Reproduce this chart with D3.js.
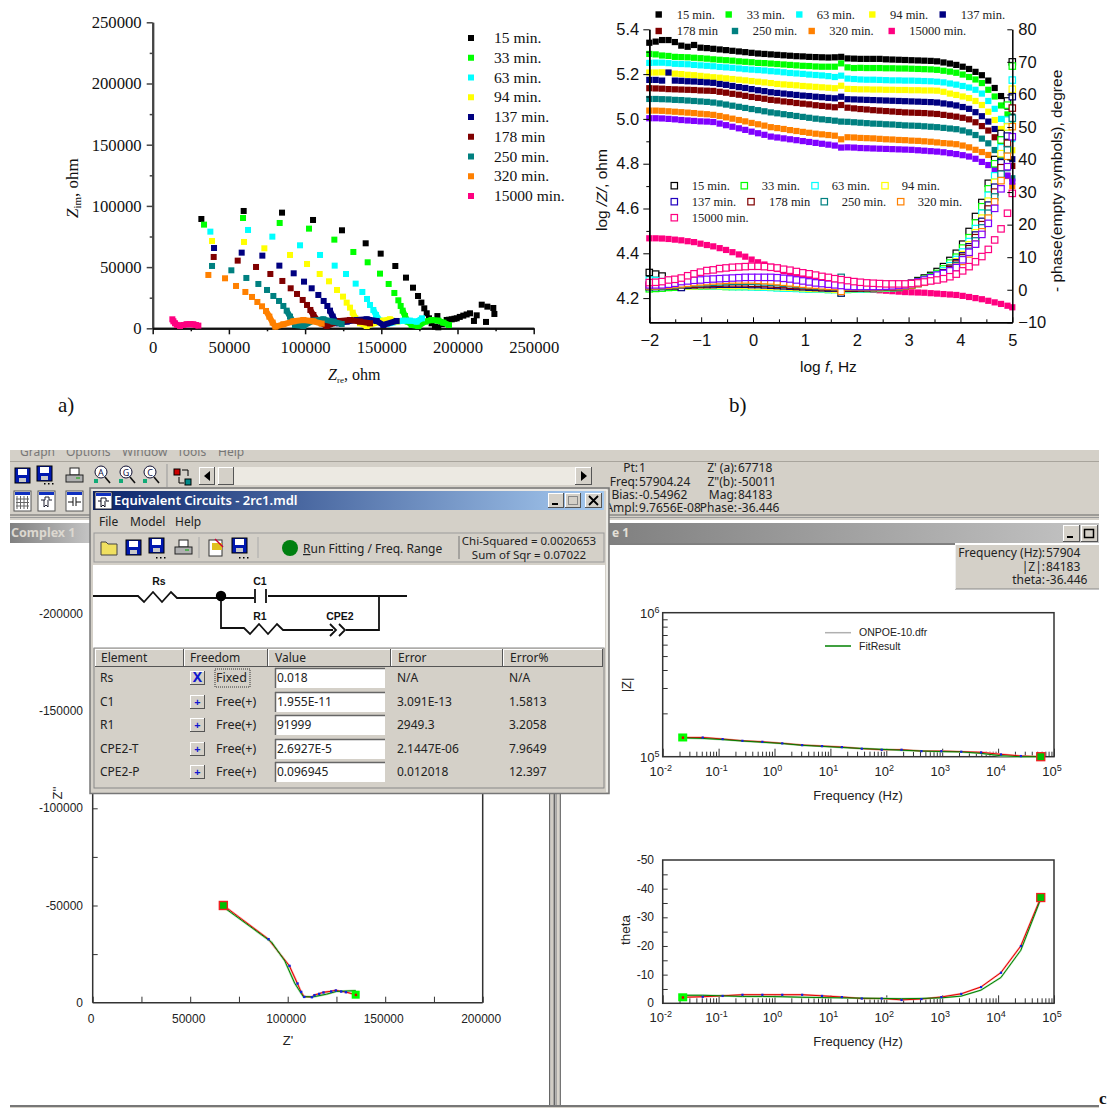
<!DOCTYPE html>
<html><head><meta charset="utf-8">
<script src="https://cdn.jsdelivr.net/npm/d3@7"></script>
<style>html,body{margin:0;padding:0;background:#fff}svg{display:block}</style></head>
<body><svg id="c" width="1113" height="1108"></svg>
<script>
// ---------- DATA ----------
const seriesNames=["15 min.","33 min.","63 min.","94 min.","137 min.","178 min","250 min.","320 min.","15000 min."];
const seriesColors=["#000000","#00ff00","#00ffff","#ffff00","#000080","#800000","#008080","#ff8000","#ff0080"];
const extraColor="#8000ff";
// a) Nyquist
const nyq15=[[31930,89300],[59700,95850],[84860,94490],[105200,88500],[124200,80060],[139750,69440],[149600,61000],[159200,50900],[166200,41400],[170800,33200],[174100,26400],[176300,21000],[178200,16300],[179800,12250],[181300,8170],[183000,4080],[185200,1360],[187400,800],[190000,3500],[186800,10000],[192900,6800],[194500,7000],[196200,7350],[198000,7800],[199500,8170],[201500,9300],[203800,10350],[206000,11300],[208200,12250],[212600,10600],[210800,6000],[215900,19300],[219600,17700],[223500,16600],[224200,11700],[218700,5200]];
const nyq33=[[33680,84700],[59270,90130],[83320,86050],[102570,81420],[119190,72430],[131660,62360],[141060,53920],[149150,44660],[154840,36220],[158560,28860],[161180,22870],[162710,18240],[164025,14430],[165560,10075],[167310,5450],[169930,2720],[174300,1900],[178680,5450],[183050,6800],[187420,6260],[190700,4630],[194420,2720]];
const nyq63=[[37830,78970],[62550,80330],[78510,74880],[96670,67800],[109790,59910],[119410,51190],[126850,44380],[133190,36490],[137560,29680],[140620,23960],[142590,19060],[144780,14980],[146530,10890],[149150,6260],[153530,3540],[164460,6260],[168840,6260],[173210,5450],[176710,8170]];
const nyq94=[[38930,71340],[59920,70530],[73260,65350],[90100,59910],[101260,52550],[109570,44380],[115690,38390],[120940,31310],[124880,25870],[127280,20970],[129470,16880],[131220,12800],[132970,8170],[136030,4080],[140400,1900],[151340,6260],[155710,7350],[160090,5450]];
const nyq137=[[40240,65620],[58390,61810],[71950,59360],[83110,51190],[92510,44930],[99290,38120],[104320,32680],[108690,27230],[112190,22330],[114600,18240],[116350,14430],[118100,9530],[120720,4080],[127280,5450],[133840,6800],[140400,7350],[146970,5990],[151340,2720],[160090,5990]];
const nyq178=[[40020,58270],[55770,55280],[67800,50100],[77200,44380],[85070,38670],[90540,32680],[94700,28050],[98420,23150],[101260,19060],[103450,14980],[105410,10890],[108690,5450],[114160,1900],[122910,5990],[129470,6800],[136030,5450],[142590,4080]];
const nyq250=[[38930,50920],[51610,47380],[61450,41120],[69330,36220],[75010,31310],[79170,26410],[82890,22330],[85730,18240],[87920,14430],[90100,9530],[93380,2720],[98850,1900],[105410,6260],[111970,7350],[118540,5450],[124010,3540]];
const nyq320=[[36520,43570],[47460,40850],[54680,34580],[60800,29680],[65170,25600],[68670,21510],[71730,17970],[74360,14160],[76550,9530],[78730,4630],[80480,1360],[85730,3270],[92290,5720],[98850,6800],[105410,5720],[110880,3810]];
const nyq15000=[[12900,7350],[13600,5700],[14650,4080],[15800,2800],[17930,1900],[20000,2700],[22310,3270],[24500,3400],[26680,3270],[28300,2700],[29960,2180]];
const nyqSeries=[nyq15,nyq33,nyq63,nyq94,nyq137,nyq178,nyq250,nyq320,nyq15000];
const nyqYTicks=[0,50000,100000,150000,200000,250000];
const nyqXTicks=[0,50000,100000,150000,200000,250000];
// b) Bode
const logF=[-2,-1.877,-1.753,-1.63,-1.507,-1.383,-1.26,-1.137,-1.013,-0.89,-0.767,-0.643,-0.52,-0.397,-0.273,-0.15,-0.027,0.097,0.22,0.343,0.467,0.59,0.713,0.837,0.96,1.083,1.207,1.33,1.453,1.577,1.7,1.823,1.947,2.07,2.193,2.317,2.44,2.563,2.687,2.81,2.933,3.057,3.18,3.303,3.427,3.55,3.673,3.797,3.92,4.043,4.167,4.29,4.413,4.537,4.66,4.783,4.907,5];
const lz15=[5.340,5.345,5.352,5.352,5.343,5.327,5.322,5.330,5.318,5.316,5.313,5.310,5.307,5.304,5.301,5.298,5.295,5.292,5.290,5.288,5.286,5.284,5.282,5.280,5.279,5.277,5.276,5.275,5.274,5.275,5.277,5.270,5.269,5.268,5.268,5.268,5.268,5.266,5.265,5.264,5.263,5.262,5.261,5.260,5.259,5.257,5.252,5.247,5.241,5.233,5.223,5.210,5.195,5.171,5.138,5.102,5.055,5.010];
const lz33=[5.290,5.288,5.283,5.281,5.277,5.276,5.275,5.273,5.271,5.269,5.266,5.264,5.262,5.260,5.257,5.255,5.253,5.250,5.249,5.247,5.245,5.243,5.241,5.239,5.237,5.236,5.234,5.233,5.233,5.233,5.248,5.230,5.227,5.228,5.227,5.227,5.227,5.226,5.226,5.225,5.225,5.224,5.223,5.222,5.221,5.219,5.215,5.211,5.206,5.198,5.187,5.176,5.160,5.130,5.100,5.060,5.020,4.970];
const lz63=[5.250,5.251,5.251,5.249,5.246,5.245,5.244,5.241,5.239,5.237,5.235,5.232,5.230,5.228,5.225,5.222,5.220,5.218,5.216,5.213,5.211,5.208,5.205,5.203,5.201,5.198,5.196,5.194,5.191,5.187,5.193,5.180,5.178,5.176,5.175,5.175,5.174,5.173,5.172,5.172,5.171,5.171,5.170,5.169,5.168,5.166,5.163,5.158,5.153,5.147,5.140,5.130,5.113,5.080,5.045,5.000,4.960,4.910];
const lz94=[5.207,5.207,5.208,5.206,5.202,5.200,5.197,5.195,5.192,5.189,5.186,5.184,5.181,5.178,5.175,5.172,5.169,5.166,5.163,5.160,5.156,5.154,5.152,5.150,5.147,5.145,5.143,5.141,5.139,5.137,5.148,5.134,5.133,5.132,5.132,5.131,5.131,5.130,5.130,5.129,5.129,5.128,5.128,5.127,5.127,5.126,5.121,5.113,5.107,5.100,5.093,5.080,5.062,5.032,4.995,4.955,4.905,4.860];
const lz137=[5.174,5.174,5.171,5.207,5.171,5.170,5.168,5.167,5.165,5.163,5.161,5.156,5.152,5.147,5.142,5.138,5.133,5.128,5.124,5.119,5.116,5.113,5.110,5.107,5.104,5.102,5.099,5.097,5.094,5.092,5.099,5.088,5.087,5.086,5.085,5.084,5.083,5.082,5.081,5.080,5.079,5.078,5.077,5.076,5.075,5.073,5.069,5.065,5.060,5.053,5.045,5.030,5.012,4.988,4.955,4.915,4.870,4.820];
const lz178=[5.137,5.136,5.135,5.133,5.132,5.131,5.130,5.129,5.127,5.126,5.125,5.121,5.117,5.112,5.108,5.103,5.098,5.094,5.090,5.085,5.082,5.078,5.075,5.071,5.068,5.065,5.061,5.058,5.055,5.052,5.062,5.050,5.047,5.044,5.042,5.039,5.037,5.035,5.033,5.031,5.029,5.028,5.027,5.026,5.024,5.022,5.018,5.014,5.010,5.005,4.998,4.985,4.968,4.948,4.918,4.880,4.835,4.790];
const lz250=[5.089,5.089,5.088,5.087,5.085,5.084,5.082,5.080,5.078,5.076,5.073,5.069,5.064,5.059,5.054,5.049,5.044,5.039,5.034,5.029,5.025,5.021,5.017,5.013,5.009,5.005,5.001,4.998,4.995,4.992,4.988,4.987,4.985,4.983,4.981,4.979,4.978,4.976,4.975,4.973,4.971,4.970,4.969,4.967,4.965,4.963,4.960,4.957,4.954,4.948,4.940,4.928,4.912,4.891,4.861,4.825,4.780,4.735];
const lz320=[5.037,5.037,5.036,5.034,5.032,5.030,5.028,5.026,5.023,5.021,5.018,5.013,5.007,5.001,4.995,4.989,4.982,4.976,4.970,4.963,4.959,4.955,4.950,4.946,4.942,4.938,4.934,4.931,4.928,4.925,4.909,4.918,4.917,4.915,4.914,4.913,4.911,4.909,4.908,4.906,4.905,4.903,4.902,4.900,4.898,4.895,4.892,4.890,4.887,4.881,4.873,4.862,4.852,4.839,4.815,4.780,4.745,4.700];
const lzExtra=[5.003,5.003,5.002,5.000,4.998,4.995,4.993,4.991,4.989,4.988,4.986,4.979,4.972,4.965,4.958,4.951,4.943,4.936,4.929,4.921,4.917,4.913,4.909,4.905,4.901,4.897,4.893,4.889,4.885,4.881,4.872,4.873,4.872,4.870,4.869,4.868,4.867,4.866,4.865,4.864,4.863,4.862,4.860,4.858,4.856,4.854,4.851,4.847,4.843,4.838,4.832,4.822,4.808,4.794,4.775,4.757,4.747,4.720];
const lz15000=[4.467,4.467,4.466,4.464,4.461,4.458,4.454,4.450,4.443,4.437,4.431,4.423,4.415,4.405,4.395,4.385,4.372,4.360,4.350,4.340,4.330,4.320,4.310,4.301,4.293,4.285,4.278,4.271,4.265,4.259,4.256,4.252,4.248,4.244,4.240,4.237,4.235,4.233,4.231,4.229,4.227,4.226,4.225,4.224,4.222,4.220,4.218,4.216,4.214,4.210,4.205,4.200,4.195,4.188,4.181,4.174,4.166,4.159];
const ph15=[5.3,4.8,4.2,2.5,1.5,1.2,1.1,1.1,1.1,1.2,1.2,1.2,1.3,1.3,1.3,1.3,1.3,1.3,1.2,1.2,1.1,1.0,0.9,0.9,0.8,0.7,0.6,0.5,0.5,0.4,0.2,0.5,0.6,0.6,0.7,0.7,0.8,0.8,0.9,1.1,1.4,2.0,2.8,3.6,4.4,5.6,7.1,9,11.2,14,17.9,22.5,26.8,32.7,40,48,58,70];
const ph33=[0.3,0.4,0.5,0.7,0.8,1.0,1.1,1.1,1.1,1.1,1.1,1.1,1.0,1.0,1.0,1.0,1.0,0.9,0.9,0.8,0.7,0.6,0.5,0.5,0.4,0.3,0.3,0.2,0.1,0.1,-1.0,0.1,0.2,0.3,0.3,0.4,0.4,0.5,0.6,0.7,1.2,1.8,2.5,3.2,4,5,6.4,8.2,10,12.8,16,20.5,25.5,31,38.7,46,56.7,68.7];
const ph63=[3.0,2.8,2.5,2.0,1.5,1.3,1.2,1.2,1.2,1.2,1.1,1.1,1.1,1.0,1.0,1.0,0.9,0.9,0.8,0.7,0.6,0.5,0.5,0.4,0.3,0.3,0.2,0.2,0.1,0.1,0.5,0.2,0.3,0.3,0.4,0.4,0.5,0.6,0.7,0.8,1.1,1.6,2.2,2.9,3.7,4.6,5.8,7.4,9.3,11.6,14.8,18.8,23.5,29,35,43.6,52.1,64.4];
const ph94=[1.5,1.4,1.4,1.3,1.2,1.2,1.2,1.2,1.3,1.3,1.3,1.3,1.3,1.3,1.3,1.3,1.2,1.2,1.1,1.0,1.0,0.9,0.8,0.7,0.6,0.5,0.4,0.4,0.3,0.2,0.8,0.4,0.4,0.5,0.5,0.6,0.6,0.7,0.8,0.9,1.1,1.5,2.0,2.7,3.4,4.2,5.3,6.8,8.6,10.8,13.8,17.5,22,27.2,33,41.8,50,61.6];
const ph137=[1.0,1.0,1.0,1.1,1.2,0.7,1.4,1.5,1.6,1.6,1.6,1.7,1.7,1.7,1.7,1.7,1.6,1.6,1.5,1.4,1.3,1.2,1.1,1.0,0.9,0.8,0.7,0.6,0.5,0.5,-1.0,0.5,0.5,0.6,0.6,0.7,0.7,0.8,0.9,1.0,1.2,1.6,2.1,2.7,3.4,4.2,5.2,6.6,8.3,10.4,13.2,16.8,21,26,31.5,39,47.2,59.3];
const ph178=[1.0,1.1,1.1,1.2,1.3,1.5,1.6,1.7,1.8,1.9,2.0,2.0,2.1,2.1,2.1,2.1,2.0,2.0,1.9,1.8,1.7,1.6,1.4,1.3,1.2,1.1,1.0,0.9,0.8,0.7,0.5,0.6,0.6,0.6,0.7,0.7,0.8,0.8,0.9,1.0,1.2,1.5,2.0,2.6,3.2,4.0,5.0,6.2,7.9,9.9,12.6,16,20,24.8,30,37.5,45,55.8];
const ph250=[1.0,1.0,1.1,1.2,1.4,1.6,1.8,2.0,2.1,2.2,2.3,2.4,2.5,2.6,2.6,2.6,2.6,2.5,2.4,2.3,2.2,2.0,1.9,1.7,1.5,1.3,1.2,1.1,1.0,0.9,3.8,0.8,0.8,0.8,0.8,0.8,0.9,0.9,1.0,1.0,1.2,1.5,1.9,2.4,3.0,3.7,4.6,5.8,7.4,9.3,11.8,15,19,23.5,28.5,35.5,42.9,52.7];
const ph320=[1.2,1.2,1.3,1.4,1.6,1.8,2.0,2.2,2.4,2.5,2.7,2.8,2.9,3.0,3.0,3.0,3.0,2.9,2.8,2.7,2.5,2.3,2.1,1.9,1.7,1.5,1.4,1.2,1.1,1.0,-0.5,0.9,0.9,0.9,0.9,0.9,0.9,1.0,1.0,1.1,1.2,1.5,1.9,2.3,2.9,3.5,4.3,5.4,6.9,8.7,11,14,17.8,22,27,33.5,41,50.1];
const phExtra=[1.5,1.5,1.5,1.7,2.0,2.5,2.7,2.9,3.0,3.2,3.3,3.4,3.5,3.6,3.7,3.8,3.8,3.8,3.8,3.8,3.7,3.5,3.3,3.0,2.7,2.4,2.1,1.9,1.7,1.5,1.3,1.1,1.0,1.0,1.0,1.0,1.0,1.1,1.2,1.3,1.5,1.9,2.4,3.0,3.7,4.5,5.0,5.8,6.8,9.2,11.5,14,17,20.4,25,31,37.8,47];
const ph15000=[2.2,2.3,2.5,3.0,3.2,3.6,4.3,4.9,5.4,5.9,6.1,6.5,6.7,6.9,7.0,7.1,7.2,7.2,7.1,6.9,6.7,6.3,6.0,5.6,5.2,4.9,4.5,4.1,3.8,3.4,3.1,2.8,2.5,2.3,2.1,2.0,1.9,1.8,1.8,1.8,1.8,1.9,2.1,2.4,2.7,3.0,3.4,4,4.8,5.8,7.1,8.6,10.2,12.4,15.3,18.7,23.5,29.6];
const bodeZ=[lz15,lz33,lz63,lz94,lz137,lz178,lz250,lz320,lzExtra,lz15000];
const bodeP=[ph15,ph33,ph63,ph94,ph137,ph178,ph250,ph320,phExtra,ph15000];
const bodeColors=["#000000","#00ff00","#00ffff","#ffff00","#000080","#800000","#008080","#ff8000",extraColor,"#ff0080"];
const bodeXTicks=[-2,-1,0,1,2,3,4,5];
const bodeZTicks=[4.2,4.4,4.6,4.8,5.0,5.2,5.4];
const bodeZMinor=[4.3,4.5,4.7,4.9,5.1,5.3];
const bodePTicks=[-10,0,10,20,30,40,50,60,70,80];
// c) fit screenshot
const fitZre=[67000,90070,100830,104930,106800,108400,112300,113650,116050,118260,122200,124600,127340,129740,134870];
const fitZim=[50011,32770,19030,9970,5660,3090,2930,3960,4630,5350,5860,6380,5860,5500,4120];
const modelZre=[67300,91700,98500,103600,108000,113000,120000,125000,134900];
const modelZim=[49000,31200,21500,10000,3100,3000,4400,5800,6200];
const freqLog=[-1.642,-1.286,-0.93,-0.575,-0.219,0.137,0.493,0.848,1.204,1.56,1.916,2.271,2.627,2.983,3.339,3.694,4.05,4.406,4.763];
const magData=[136000,136000,132700,129100,127000,123900,120500,118600,116700,113800,111900,111900,109400,109400,108400,107200,103800,101200,100000];
const magFit=[135000,134000,131500,128500,126000,123500,120000,118000,116000,114000,112500,111000,109500,108500,108000,105500,101500,100000,100000];
const thetaData=[2.1,2.3,2.6,3,3,3,3,2.6,2.2,1.7,1.7,1.2,1.5,2.2,3.3,5.7,10.7,20,36.9];
const thetaFit=[2.8,2.8,2.6,2.4,2.4,2.3,2.1,2.0,1.9,1.8,1.7,1.6,1.7,1.9,2.5,4.6,9,18.5,36.4];
const circuitRows=[["Rs","Fixed","0.018","N/A","N/A"],["C1","Free(+)","1.955E-11","3.091E-13","1.5813"],["R1","Free(+)","91999","2949.3","3.2058"],["CPE2-T","Free(+)","2.6927E-5","2.1447E-06","7.9649"],["CPE2-P","Free(+)","0.096945","0.012018","12.397"]];
const circuitHeads=["Element","Freedom","Value","Error","Error%"];

// ---------- HELPERS ----------
const svg=d3.select("#c");
const SERIF='"Liberation Serif","Times New Roman",serif', ARIAL='"Liberation Sans",Arial,sans-serif', UI='"Noto Sans","Open Sans",sans-serif';
const defs=svg.append("defs");
function grad(id,a,b){const g=defs.append("linearGradient").attr("id",id);g.append("stop").attr("offset","0").attr("stop-color",a);g.append("stop").attr("offset","1").attr("stop-color",b);}
grad("tb","#0a246a","#a6caf0");grad("gb","#808080","#c4c4c4");
function txt(p,x,y,s,o={}){return p.append("text").attr("x",x).attr("y",y).text(s)
 .attr("font-family",o.f||UI).attr("font-size",o.s||12).attr("fill",o.c||"#222")
 .attr("text-anchor",o.a||"start").attr("font-weight",o.w||null).attr("font-style",o.i?"italic":null)
 .attr("transform",o.r?`rotate(${o.r} ${x} ${y})`:null);}
function rct(p,x,y,w,h,f,st,sw){return p.append("rect").attr("x",x).attr("y",y).attr("width",w).attr("height",h).attr("fill",f||"none").attr("stroke",st||"none").attr("stroke-width",sw||1);}
function ln(p,x1,y1,x2,y2,c,w){return p.append("line").attr("x1",x1).attr("y1",y1).attr("x2",x2).attr("y2",y2).attr("stroke",c||"#000").attr("stroke-width",w||1);}
function bevel(p,x,y,w,h,inset){rct(p,x,y,w,h,"#d4d0c8");const a=inset?"#808080":"#fff",b=inset?"#fff":"#555";ln(p,x,y+.5,x+w,y+.5,a);ln(p,x+.5,y,x+.5,y+h,a);ln(p,x,y+h-.5,x+w,y+h-.5,b);ln(p,x+w-.5,y,x+w-.5,y+h,b);}
function styleAxis(g,c,w){g.selectAll(".domain").attr("stroke",c).attr("stroke-width",w);g.selectAll(".tick line").attr("stroke",c).attr("stroke-width",Math.max(1,w-.5));g.selectAll("text").attr("fill","#111");return g;}
function squares(p,pts,xs,ys,size,col,open){const h=size/2;
 p.append("g").selectAll("rect").data(pts).join("rect")
  .attr("x",d=>xs(d[0])-h).attr("y",d=>ys(d[1])-h).attr("width",size).attr("height",size)
  .attr("fill",open?"#fff":col).attr("stroke",open?col:"none").attr("stroke-width",open?1.2:0);}

// ---------- PANEL a ----------
const ax=d3.scaleLinear().domain([0,250000]).range([152.7,533.7]);
const ay=d3.scaleLinear().domain([0,250000]).range([328.3,22.3]);
const pa=svg.append("g");
const ayA=pa.append("g").attr("transform",`translate(${ax(0)},0)`).call(d3.axisLeft(ay).tickValues(nyqYTicks).tickSize(6).tickSizeOuter(0).tickPadding(5).tickFormat(d3.format("d")));
ayA.selectAll("text").attr("font-family",SERIF).attr("font-size",16.7);styleAxis(ayA,"#444",2);
const ayM=pa.append("g").attr("transform",`translate(${ax(0)},0)`).call(d3.axisLeft(ay).tickValues(nyqYTicks.slice(0,-1).map(v=>v+25000)).tickSize(3).tickSizeOuter(0).tickFormat(""));styleAxis(ayM,"#444",2);
const axA=pa.append("g").attr("transform",`translate(0,${ay(0)})`).call(d3.axisBottom(ax).tickValues(nyqXTicks).tickSize(6).tickSizeOuter(0).tickPadding(7).tickFormat(d3.format("d")));
axA.selectAll("text").attr("font-family",SERIF).attr("font-size",16.7);styleAxis(axA,"#111",2);
const axM=pa.append("g").attr("transform",`translate(0,${ay(0)})`).call(d3.axisBottom(ax).tickValues(nyqXTicks.slice(0,-1).map(v=>v+25000)).tickSize(3).tickSizeOuter(0).tickFormat(""));styleAxis(axM,"#111",2);
const lineA=d3.line().x(d=>ax(d[0])).y(d=>ay(d[1]));
nyqSeries.forEach((s,i)=>{
 if(i>0){const from=s.findIndex(d=>d[1]<16000);
  pa.append("path").attr("d",lineA(s.slice(from))).attr("fill","none").attr("stroke",seriesColors[i]).attr("stroke-width",6).attr("stroke-linejoin","round");}
 squares(pa,s,ax,ay,6,seriesColors[i],false);
});
seriesNames.forEach((n,i)=>{const y=38+i*19.75;
 rct(pa,468,y-3,6,6,seriesColors[i]);
 txt(pa,494,y+5,n,{f:SERIF,s:15.5,c:"#111"});
});
const zimT=txt(pa,78,218,"",{f:SERIF,s:17,c:"#111",r:-90});
zimT.append("tspan").text("Z").attr("font-style","italic");
zimT.append("tspan").text("im").attr("font-size",11).attr("dy",3);
zimT.append("tspan").text(", ohm").attr("dy",-3);
const zreT=txt(pa,328,380,"",{f:SERIF,s:16,c:"#111"});
zreT.append("tspan").text("Z").attr("font-style","italic");
zreT.append("tspan").text("re").attr("font-size",9).attr("dy",3);
zreT.append("tspan").text(", ohm").attr("dy",-3);
txt(pa,58,412,"a)",{f:SERIF,s:21,c:"#111"});
txt(pa,729,412,"b)",{f:SERIF,s:21,c:"#111"});

// ---------- PANEL b ----------
const bx=d3.scaleLinear().domain([-2,5]).range([649.3,1012.3]);
const by=d3.scaleLinear().domain([4.092,5.4]).range([322.3,29.3]);
const bp=d3.scaleLinear().domain([-10,80]).range([322.3,29.3]);
const pb=svg.append("g");
// modulus first, phase (white-filled) on top
bodeZ.forEach((s,i)=>squares(pb,s.map((v,j)=>[logF[j],v]),bx,by,6.2,bodeColors[i],false));
bodeP.forEach((s,i)=>squares(pb,s.map((v,j)=>[logF[j],v]),bx,bp,6.4,bodeColors[i],true));
const bl=pb.append("g").attr("transform",`translate(${bx(-2)},0)`).call(d3.axisLeft(by).tickValues(bodeZTicks).tickSize(6).tickSizeOuter(0).tickPadding(4).tickFormat(d3.format(".1f")));
bl.selectAll("text").attr("font-family",ARIAL).attr("font-size",16.5);styleAxis(bl,"#000",1.5);
const blm=pb.append("g").attr("transform",`translate(${bx(-2)},0)`).call(d3.axisLeft(by).tickValues(bodeZMinor).tickSize(3).tickSizeOuter(0).tickFormat(""));styleAxis(blm,"#000",1.5);
const br=pb.append("g").attr("transform",`translate(${bx(5)},0)`).call(d3.axisRight(bp).tickValues(bodePTicks).tickSize(-5).tickSizeOuter(0).tickPadding(6).tickFormat(d3.format("d")));
br.selectAll("text").attr("font-family",ARIAL).attr("font-size",16.5);styleAxis(br,"#000",1.5);
const bb=pb.append("g").attr("transform",`translate(0,${by.range()[0]})`).call(d3.axisBottom(bx).tickValues(bodeXTicks).tickSize(-5).tickSizeOuter(0).tickPadding(12).tickFormat(d3.format("d")));
bb.selectAll("text").attr("font-family",ARIAL).attr("font-size",16.5);styleAxis(bb,"#000",1.5);
const bbm=pb.append("g").attr("transform",`translate(0,${by.range()[0]})`).call(d3.axisBottom(bx).tickValues(bodeXTicks.slice(0,-1).map(v=>v+.5)).tickSize(-3).tickSizeOuter(0).tickFormat(""));styleAxis(bbm,"#000",1.5);
const lt=txt(pb,800,372,"log ",{f:ARIAL,s:15.5,c:"#111"});lt.append("tspan").text("f").attr("font-style","italic");lt.append("tspan").text(", Hz");
const lz=txt(pb,607,231,"log ",{f:ARIAL,s:15.5,c:"#111",r:-90});lz.append("tspan").text("/Z/").attr("font-style","italic");lz.append("tspan").text(", ohm");
txt(pb,1062,292," - phase(empty symbols), degree",{f:ARIAL,s:15.5,c:"#111",r:-90});
// legends of b
const topMx=[658.7,728.7,799.3,872.3,942.7,658.7,735,811.7,891.7], topTx=[676.7,746.7,816.7,890,960.7,676.7,752.7,829.3,909.3];
seriesNames.forEach((n,i)=>{const y=i<5?14.5:31;
 rct(pb,topMx[i]-3.2,y-3.2,6.4,6.4,seriesColors[i]);
 txt(pb,topTx[i],y+4,n,{f:SERIF,s:12.5,c:"#222"});});
const botMx=[674.3,744.3,815,885,674.3,751,824.3,900.7,674.3], botTx=[691.7,761.7,831.7,901.7,691.7,769,841.7,917.7,691.7], botY=[185.7,185.7,185.7,185.7,201.7,201.7,201.7,201.7,217.7];
const botCol=["#000000","#00ff00","#00ffff","#ffff00","#2000c0","#800000","#008080","#ff8000","#ff0080"];
seriesNames.forEach((n,i)=>{
 rct(pb,botMx[i]-3.2,botY[i]-3.2,6.4,6.4,"#fff",botCol[i],1.2);
 txt(pb,botTx[i],botY[i]+4,n,{f:SERIF,s:12.5,c:"#222"});});

// ---------- PANEL c : window chrome ----------
const pc=svg.append("g");
defs.append("clipPath").attr("id","topclip").append("rect").attr("x",0).attr("y",450).attr("width",1113).attr("height",11);
rct(pc,10,450,1089,70,"#d4d0c8");
ln(pc,10,461.5,1099,461.5,"#a8a49c");
const menuClip=pc.append("g").attr("clip-path","url(#topclip)");
["Graph","Options","Window","Tools","Help"].forEach((t,i)=>{txt(menuClip,[20,66,122,177,218][i],456,t,{c:"#777",s:12});});
ln(pc,10,515,1099,515,"#666");ln(pc,10,517.5,1099,517.5,"#999");
function floppy(p,x,y,c){rct(p,x,y,15,15,c||"#0018b0","#000");rct(p,x+3,y+1,9,6,"#fff");rct(p,x+4,y+10,7,4,"#c8c8c8");}
function printer(p,x,y){rct(p,x+4,y,9,7,"#fff","#222");rct(p,x,y+7,17,7,"#b0b0b0","#222");ln(p,x+10,y+10,x+14,y+10,"#0a0");}
function magn(p,x,y,l,c){p.append("circle").attr("cx",x+7).attr("cy",y+6).attr("r",6).attr("fill","#fff").attr("stroke","#113");txt(p,x+7,y+9.5,l,{s:9,a:"middle",c:c||"#114"});ln(p,x+11,y+11,x+16,y+17,"#111",1.6);rct(p,x,y+13,4,4,"#1a7");}
floppy(pc,15,468);floppy(pc,37,466);
[44,48,52].forEach(x=>rct(pc,x,483,1.5,1.5,"#000"));
printer(pc,66,468);magn(pc,94,466,"A");magn(pc,119,466,"G");magn(pc,143,466,"C");
ln(pc,167,464,167,487,"#999");
rct(pc,174,469,6,6,"#c00","#000");rct(pc,185,479,6,6,"#088","#000");
pc.append("path").attr("d","M182 470 h6 v6 M179 477 v6 h5").attr("fill","none").attr("stroke","#000");
// scrollbar
rct(pc,199,467,393,18,"#ece9e2");
bevel(pc,199,467,16,18);pc.append("path").attr("d","M204 476 l6 -5 v10z").attr("fill","#000");
bevel(pc,218,467,16,18);
bevel(pc,575,467,17,18);pc.append("path").attr("d","M581 471 l6 5 l-6 5z").attr("fill","#000");
// second row icons
[14,38,66].forEach((x,i)=>{
  rct(pc,x,491,17,20,"#fff","#555");rct(pc,x+1,492,15,3,"#1030c0");
  if(i===0){d3.range(4).forEach(k=>ln(pc,x+3+k*3.5,496,x+3+k*3.5,509,"#666"));d3.range(3).forEach(k=>ln(pc,x+2,499+k*3.5,x+15,499+k*3.5,"#666"));}
  if(i===1){pc.append("path").attr("d",`M${x+3} 500 h4 v-3 h4 v3 h3 M${x+6} 500 v7 l2 -2 l2 2 v-7`).attr("fill","none").attr("stroke","#223");}
  if(i===2){pc.append("path").attr("d",`M${x+2} 502 h5 M${x+7} 497 v9 M${x+10} 497 v9 M${x+10} 502 h5`).attr("stroke","#111").attr("fill","none");}
});
// info readout
[["Pt:","1",472],["Freq:","57904.24",486],["Bias:","-0.54962",499],["Ampl:","9.7656E-08",512]].forEach(r=>{txt(pc,638,r[2],r[0],{a:"end"});txt(pc,639,r[2],r[1]);});
[["Z' (a):","67718",472],["Z\"(b):","-50011",486],["Mag:","84183",499],["Phase:","-36.446",512]].forEach(r=>{txt(pc,737,r[2],r[0],{a:"end"});txt(pc,738,r[2],r[1]);});
// pane title bars
rct(pc,10,523,80,20,"url(#gb)");txt(pc,11,537,"Complex 1",{w:700,s:12.5,c:"#dcd8d0"});
rct(pc,609,523,490,20,"url(#gb)");txt(pc,612,537,"e 1",{w:700,s:12,c:"#e4e0d8"});
ln(pc,609,544,955,544,"#000",1);
bevel(pc,1063,525,17,17);ln(pc,1067,537,1073,537,"#000",2);
bevel(pc,1081,525,17,17);rct(pc,1084.5,529.5,9,8,"none","#000",1.5);
// info box
rct(pc,955,545,144,44,"#d4d0c8");ln(pc,955,589,1099,589,"#888");ln(pc,955.5,545,955.5,589,"#eee");
[["Frequency (Hz):","57904",557],["|Z|:","84183",571],["theta:","-36.446",584]].forEach(r=>{txt(pc,1045,r[2],r[0],{a:"end"});txt(pc,1046,r[2],r[1]);});
// dividers
rct(pc,549,790,1.5,316,"#666");rct(pc,550.5,790,3,316,"#d0ccc4");rct(pc,553.5,790,1.5,316,"#666");
rct(pc,555.5,790,1.2,316,"#666");rct(pc,556.7,790,3,316,"#d8d4cc");rct(pc,559.7,790,1.2,316,"#666");
rct(pc,10,1105,1089,2,"#777");
rct(pc,10,1107,1089,1,"#d4d0c8");
txt(pc,1099,1104,"c",{f:SERIF,s:17,w:700,c:"#111"});

// ---------- PANEL c : plots ----------
const CH="#333";
function lab(p,x,y,s,a){return txt(p,x,y,s,{f:ARIAL,s:12,a:a||"middle",c:"#222"});}
// Nyquist
const nx=d3.scaleLinear().domain([0,200000]).range([92.7,482.7]);
const ny=d3.scaleLinear().domain([0,-300000]).range([1002.7,419.5]);
const pn=svg.append("g");
ln(pn,92.7,560,92.7,1002.7,CH,1.5);ln(pn,92.7,1002.7,482.7,1002.7,CH,1.5);ln(pn,482.7,560,482.7,1002.7,CH,1.5);
const nxT=pn.append("g").attr("transform","translate(0,1002.7)").call(d3.axisBottom(nx).tickValues([0,25000,50000,75000,100000,125000,150000,175000,200000]).tickSize(-6).tickSizeOuter(0).tickFormat(""));
nxT.select(".domain").remove();nxT.selectAll(".tick line").attr("stroke",CH);
[0,50000,100000,150000,200000].forEach(v=>lab(pn,nx(v)-1.5,1023,String(v)));
const nyT=pn.append("g").attr("transform","translate(92.7,0)").call(d3.axisRight(ny).tickValues([-175000,-150000,-125000,-100000,-75000,-50000,-25000]).tickSize(5).tickSizeOuter(0).tickFormat(""));
nyT.select(".domain").remove();nyT.selectAll(".tick line").attr("stroke",CH);
[0,-50000,-100000,-150000,-200000].forEach(v=>lab(pn,83,ny(v)+4,String(v),"end"));
const nyqLine=d3.line().x(d=>nx(d[0])).y(d=>ny(-d[1]));
const nData=d3.zip(fitZre,fitZim), nFit=d3.zip(modelZre,modelZim);
pn.append("path").attr("d",nyqLine(nData)).attr("fill","none").attr("stroke","#ffa0a0").attr("stroke-width",2.2);
pn.append("path").attr("d",nyqLine(nFit)).attr("fill","none").attr("stroke","#a8dca8").attr("stroke-width",2.2);
pn.append("path").attr("d",nyqLine(nData)).attr("fill","none").attr("stroke","#e00000").attr("stroke-width",1);
pn.append("path").attr("d",nyqLine(nFit)).attr("fill","none").attr("stroke","#008000").attr("stroke-width",1);
pn.append("g").selectAll("rect").data(nData).join("rect").attr("x",d=>nx(d[0])-1).attr("y",d=>ny(-d[1])-1).attr("width",2.4).attr("height",2.4).attr("fill","#1020e0");
rct(pn,nx(fitZre[0])-4,ny(-fitZim[0])-4,8,8,"#00c000","#f02020",1.4);
rct(pn,nx(fitZre[14])-4,ny(-fitZim[14])-4,8,8,"#00ff00");
rct(pn,nx(fitZre[14])-1,ny(-fitZim[14])-1,2.4,2.4,"#e00000");
lab(pn,288,1045,"Z'").attr("font-size",13);
txt(pn,62,793,"Z''",{f:ARIAL,s:13,a:"middle",c:"#222",r:-90});

// |Z| and theta
const fx=d3.scaleLinear().domain([-2,5]).range([662.7,1054]);
const mx=d=>fx(d);
const my=d3.scaleLog().domain([1e5,1e6]).range([756.7,612.7]);
const tp=d3.scaleLinear().domain([0,-50]).range([1003.3,860]);
const minorX=[];d3.range(-2,5).forEach(k=>[2,3,4,5,6,7,8,9].forEach(m=>minorX.push(k+Math.log10(m))));
function freqFrame(p,yb,yt){
 rct(p,662.7,yt,391.3,yb-yt,"#fff",CH,1.5);
 const a=p.append("g").attr("transform",`translate(0,${yb})`).call(d3.axisBottom(fx).tickValues(d3.range(-2,6)).tickSize(-8).tickSizeOuter(0).tickFormat(""));
 a.select(".domain").remove();a.selectAll(".tick line").attr("stroke",CH);
 const b=p.append("g").attr("transform",`translate(0,${yb})`).call(d3.axisBottom(fx).tickValues(minorX).tickSize(-5).tickSizeOuter(0).tickFormat(""));
 b.select(".domain").remove();b.selectAll(".tick line").attr("stroke",CH);
 d3.range(-2,6).forEach(k=>{const t=lab(p,fx(k)-2,yb+19,"10").attr("font-size",13);t.append("tspan").text(k).attr("font-size",9).attr("dy",-5);});
 lab(p,858,yb+43,"Frequency (Hz)").attr("font-size",13);
}
const pm=svg.append("g");freqFrame(pm,756.7,612.7);
const myT=pm.append("g").attr("transform","translate(662.7,0)").call(d3.axisRight(my).tickValues([2e5,3e5,4e5,5e5,6e5,7e5,8e5,9e5]).tickSize(5).tickSizeOuter(0).tickFormat(""));
myT.select(".domain").remove();myT.selectAll(".tick line").attr("stroke",CH);
[[1e5,"5"],[1e6,"6"]].forEach(a=>{const t=lab(pm,640,my(a[0])+5,"10","start").attr("font-size",13);t.append("tspan").text(a[1]).attr("font-size",9).attr("dy",-5);});
txt(pm,631,685,"|Z|",{f:ARIAL,s:13,a:"middle",c:"#222",r:-90});
function traces(p,ya,da,db){
 const l=d3.line().x(d=>mx(d[0])).y(d=>ya(d[1]));
 const A=d3.zip(freqLog,da),B=d3.zip(freqLog,db);
 p.append("path").attr("d",l(A)).attr("fill","none").attr("stroke","#ffa0a0").attr("stroke-width",2);
 p.append("path").attr("d",l(B)).attr("fill","none").attr("stroke","#a8dca8").attr("stroke-width",2);
 p.append("path").attr("d",l(A)).attr("fill","none").attr("stroke","#e00000").attr("stroke-width",1);
 p.append("path").attr("d",l(B)).attr("fill","none").attr("stroke","#008000").attr("stroke-width",1);
 p.append("g").selectAll("rect").data(A).join("rect").attr("x",d=>mx(d[0])-1).attr("y",d=>ya(d[1])-1).attr("width",2.2).attr("height",2.2).attr("fill","#1020e0");
 const a0=A[0],a1=A[A.length-1];
 rct(p,mx(a0[0])-4.5,ya(a0[1])-4,9,8,"#00ff00");
 rct(p,mx(a0[0])-1,ya(a0[1])-1,2.4,2.4,"#e00000");
 rct(p,mx(a1[0])-4,ya(a1[1])-4,8,8,"#00c000","#f02020",1.3);
}
traces(pm,my,magData,magFit);
ln(pm,825,632.7,851,632.7,"#b0b0b0",1.5);ln(pm,825,646,851,646,"#008000",1.5);
lab(pm,859,636,"ONPOE-10.dfr","start").attr("font-size",10.5);lab(pm,859,650,"FitResult","start").attr("font-size",10.5);
const pt=svg.append("g");freqFrame(pt,1003.3,860);
const tT=pt.append("g").attr("transform","translate(662.7,0)").call(d3.axisRight(tp).tickValues([-45,-40,-35,-30,-25,-20,-15,-10,-5]).tickSize(5).tickSizeOuter(0).tickFormat(""));
tT.select(".domain").remove();tT.selectAll(".tick line").attr("stroke",CH);
[0,-10,-20,-30,-40,-50].forEach(v=>lab(pt,654,tp(v)+4,String(v),"end"));
txt(pt,630,930,"theta",{f:ARIAL,s:13.5,a:"middle",c:"#222",r:-90});
traces(pt,tp,thetaData.map(v=>-v),thetaFit.map(v=>-v));

// ---------- dialog ----------
const dg=svg.append("g");
rct(dg,90,488,519,305.5,"#d4d0c8","#777",1.5);
ln(dg,91.5,490,607,490,"#fff");ln(dg,607,490,607,792,"#f4f4f0",1.5);
rct(dg,93,491,511,19,"url(#tb)");
rct(dg,95,492,17,17,"#fff","#223");rct(dg,96,493,15,3,"#1030c0");dg.append("path").attr("d","M98 501 h3 v-3 h5 v3 h3 M101 501 v6 l2 -2 l2 2 v-6").attr("fill","none").attr("stroke","#112");
txt(dg,114,505,"Equivalent Circuits - 2rc1.mdl",{s:13,w:600,c:"#fff"});
bevel(dg,548,493,16,15);ln(dg,552,504,558,504,"#000",2);
bevel(dg,565,493,16,15);rct(dg,568.5,496.5,9,8,"none","#888");
bevel(dg,585,493,17,15);dg.append("path").attr("d","M589 496 l9 9 M598 496 l-9 9").attr("stroke","#000").attr("stroke-width",1.8);
["File","Model","Help"].forEach((t,i)=>txt(dg,[99,130,175][i],526,t,{s:12}));
rct(dg,94,533,510,29,"#d4d0c8","#999");
dg.append("path").attr("d","M101 542 h5 l2 2 h9 v11 h-16z").attr("fill","#f0e060").attr("stroke","#444");
floppy(dg,126,540);floppy(dg,149,538);[156,160,164].forEach(x=>rct(dg,x,557,1.5,1.5,"#000"));
printer(dg,175,540);ln(dg,199,537,199,558,"#aaa");
rct(dg,209,540,13,16,"#fff","#333");rct(dg,212,543,10,7,"#e0c020");dg.append("path").attr("d","M215 539 l8 8").attr("stroke","#c03").attr("stroke-width",1.4);
floppy(dg,232,538);[239,243,247].forEach(x=>rct(dg,x,557,1.5,1.5,"#000"));
ln(dg,258,537,258,558,"#aaa");
dg.append("circle").attr("cx",290).attr("cy",548).attr("r",8).attr("fill","#007f10");
const rf=txt(dg,303,553,"",{s:12});rf.append("tspan").text("R").attr("text-decoration","underline");rf.append("tspan").text("un Fitting / Freq. Range");
ln(dg,459,536,459,559,"#777");
txt(dg,529,545,"Chi-Squared = 0.0020653",{s:11.5,a:"middle"});
txt(dg,529,559,"Sum of Sqr = 0.07022",{s:11.5,a:"middle"});
// circuit
rct(dg,93,565,512,83,"#fff");
const W="#111";
dg.append("path").attr("d","M93 596 H138 l6 6 l9 -10 l9 10 l9 -10 l6 6 H254 M268 596 H407 M379 596 V630 H346 M333 630 H283 l-6 -6 l-9 10 l-9 -10 l-9 10 l-6 -6 H221 V596").attr("fill","none").attr("stroke",W).attr("stroke-width",1.8);
ln(dg,255,589,255,603,W,1.8);ln(dg,266,589,266,603,W,1.8);
dg.append("path").attr("d","M330 624 l6 6 l-6 6 M339 624 l6 6 l-6 6").attr("fill","none").attr("stroke",W).attr("stroke-width",1.8);
dg.append("circle").attr("cx",221).attr("cy",596).attr("r",5.2).attr("fill","#000");
[[159,585,"Rs"],[260,585,"C1"],[260,620,"R1"],[340,620,"CPE2"]].forEach(a=>txt(dg,a[0],a[1],a[2],{s:10.5,w:700,a:"middle",f:ARIAL,c:"#111"}));
// table
rct(dg,94,648,510,140,"#d4d0c8","#888");
const colX=[95,184,268,391,503,603];
circuitHeads.forEach((h,i)=>{bevel(dg,colX[i],649,colX[i+1]-colX[i],18);txt(dg,[101,190,275,398,510][i],662,h,{s:12});});
const rowY=[678,702,725,749,772];
circuitRows.forEach((r,i)=>{const y=rowY[i];
 txt(dg,100,y+4,r[0]);
 bevel(dg,190,y-7,15,14);
 txt(dg,197.5,y+4,i===0?"X":"+",{s:i===0?14:11,a:"middle",c:"#1018d0",w:700});
 txt(dg,216,y+4,r[1],{s:12.5});
 if(i===0)rct(dg,215,y-9,35,18,"none","#333").attr("stroke-dasharray","1,1");
 rct(dg,275,y-10,110,20,"#fff");ln(dg,275,y-9.5,385,y-9.5,"#666",1.5);ln(dg,275.5,y-10,275.5,y+10,"#666",1.5);
 txt(dg,277,y+4,r[2]);
 txt(dg,397,y+4,r[3]);
 txt(dg,509,y+4,r[4]);
});
</script></body></html>
